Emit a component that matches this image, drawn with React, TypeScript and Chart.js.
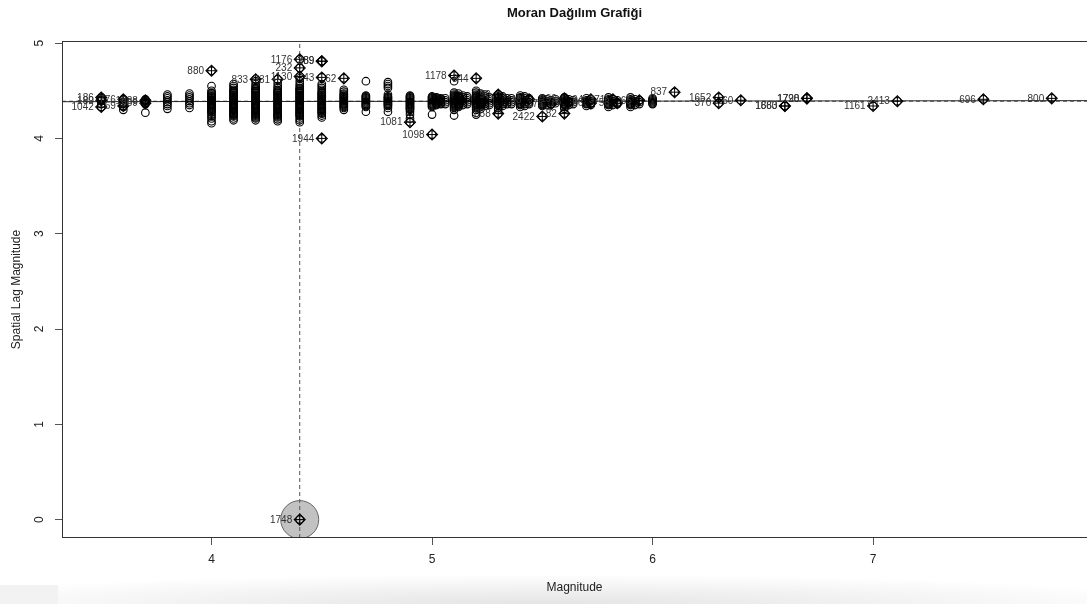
import React, { useEffect, useRef } from 'react';
import { Chart, registerables } from 'chart.js';

Chart.register(...registerables);

const FONT = '"Liberation Sans", Arial, Helvetica, sans-serif';

const chartTitle = 'Moran Dağılım Grafiği';
const xTitle = 'Magnitude';
const yTitle = 'Spatial Lag Magnitude';

const xMin = 3.322;
const xMax = 7.97;
const yMin = -0.193;
const yMax = 5.022;

const xTicks = [4, 5, 6, 7];
const yTicks = [0, 1, 2, 3, 4, 5];

// Magnitude value of each column of points
const columnMagnitudes = [
  3.5, 3.6, 3.7, 3.8, 3.9, 4.0, 4.1, 4.2, 4.3, 4.4, 4.5, 4.6, 4.7, 4.8, 4.9,
  5.0, 5.02, 5.04, 5.06,
  5.1, 5.12, 5.14, 5.16,
  5.2, 5.22, 5.24, 5.26,
  5.3, 5.32, 5.34, 5.36,
  5.4, 5.42, 5.44,
  5.5, 5.52, 5.54, 5.56,
  5.6, 5.62, 5.64,
  5.7, 5.72,
  5.8, 5.82, 5.84,
  5.9, 5.92, 5.94,
  6.0,
];

// Spatial lag values of the points in each column
const columnLags = [
  [4.33, 4.36, 4.39, 4.41, 4.42],
  [4.30, 4.33, 4.36, 4.38, 4.40, 4.41],
  [4.27, 4.36, 4.37, 4.38, 4.39, 4.40, 4.41],
  [4.31, 4.34, 4.36, 4.38, 4.40, 4.42, 4.44, 4.46],
  [4.32, 4.35, 4.37, 4.39, 4.41, 4.43, 4.45, 4.47],
  [4.16, 4.18, 4.21, 4.23, 4.25, 4.27, 4.28, 4.29, 4.30, 4.31, 4.32, 4.33, 4.34, 4.35, 4.36, 4.37, 4.38, 4.39, 4.40, 4.41, 4.42, 4.43, 4.44, 4.45, 4.46, 4.47, 4.48, 4.50, 4.55],
  [4.19, 4.21, 4.23, 4.24, 4.25, 4.26, 4.27, 4.28, 4.29, 4.30, 4.31, 4.32, 4.33, 4.34, 4.35, 4.36, 4.37, 4.38, 4.39, 4.40, 4.41, 4.42, 4.43, 4.44, 4.45, 4.46, 4.47, 4.48, 4.49, 4.50, 4.51, 4.53, 4.55, 4.57],
  [4.19, 4.21, 4.22, 4.23, 4.24, 4.25, 4.26, 4.27, 4.28, 4.29, 4.30, 4.31, 4.32, 4.33, 4.34, 4.35, 4.36, 4.37, 4.38, 4.39, 4.40, 4.41, 4.42, 4.43, 4.44, 4.45, 4.46, 4.47, 4.48, 4.49, 4.50, 4.51, 4.52, 4.53, 4.55, 4.57, 4.60],
  [4.18, 4.20, 4.22, 4.23, 4.24, 4.25, 4.26, 4.27, 4.28, 4.29, 4.30, 4.31, 4.32, 4.33, 4.34, 4.35, 4.36, 4.37, 4.38, 4.39, 4.40, 4.41, 4.42, 4.43, 4.44, 4.45, 4.46, 4.47, 4.48, 4.49, 4.50, 4.51, 4.53, 4.55, 4.58],
  [4.17, 4.19, 4.21, 4.23, 4.24, 4.25, 4.26, 4.27, 4.28, 4.29, 4.30, 4.31, 4.32, 4.33, 4.34, 4.35, 4.36, 4.37, 4.38, 4.39, 4.40, 4.41, 4.42, 4.43, 4.44, 4.45, 4.46, 4.47, 4.48, 4.49, 4.50, 4.51, 4.52, 4.53, 4.55, 4.57, 4.60, 4.63],
  [4.22, 4.24, 4.26, 4.27, 4.28, 4.29, 4.30, 4.31, 4.32, 4.33, 4.34, 4.35, 4.36, 4.37, 4.38, 4.39, 4.40, 4.41, 4.42, 4.43, 4.44, 4.45, 4.46, 4.47, 4.48, 4.49, 4.51, 4.53, 4.55, 4.57],
  [4.30, 4.32, 4.33, 4.34, 4.35, 4.36, 4.37, 4.38, 4.39, 4.40, 4.41, 4.42, 4.43, 4.44, 4.45, 4.46, 4.47, 4.49, 4.51],
  [4.28, 4.33, 4.34, 4.35, 4.36, 4.37, 4.38, 4.39, 4.40, 4.41, 4.42, 4.43, 4.44, 4.45, 4.60],
  [4.28, 4.32, 4.34, 4.35, 4.36, 4.37, 4.38, 4.39, 4.40, 4.41, 4.42, 4.43, 4.44, 4.46, 4.53, 4.55, 4.57, 4.59],
  [4.21, 4.25, 4.28, 4.30, 4.31, 4.32, 4.33, 4.34, 4.35, 4.36, 4.37, 4.38, 4.39, 4.40, 4.41, 4.42, 4.43, 4.44, 4.45],
  [4.25, 4.33, 4.34, 4.35, 4.36, 4.37, 4.38, 4.39, 4.40, 4.41, 4.42, 4.43, 4.44],
  [4.35, 4.36, 4.37, 4.38, 4.39, 4.40, 4.41, 4.42, 4.43],
  [4.36, 4.37, 4.38, 4.39, 4.40, 4.41, 4.42],
  [4.36, 4.38, 4.40, 4.42],
  [4.24, 4.30, 4.32, 4.33, 4.34, 4.35, 4.36, 4.37, 4.38, 4.39, 4.40, 4.41, 4.42, 4.43, 4.44, 4.45, 4.46, 4.48, 4.60],
  [4.33, 4.34, 4.35, 4.36, 4.37, 4.38, 4.39, 4.40, 4.41, 4.42, 4.43, 4.44, 4.45, 4.47],
  [4.35, 4.37, 4.39, 4.41, 4.43, 4.45],
  [4.36, 4.38, 4.40, 4.42, 4.44],
  [4.25, 4.27, 4.30, 4.32, 4.33, 4.34, 4.35, 4.36, 4.37, 4.38, 4.39, 4.40, 4.41, 4.42, 4.43, 4.44, 4.45, 4.46, 4.48, 4.50],
  [4.31, 4.33, 4.34, 4.35, 4.36, 4.37, 4.38, 4.39, 4.40, 4.41, 4.42, 4.43, 4.45, 4.47],
  [4.34, 4.36, 4.38, 4.40, 4.42, 4.44, 4.46],
  [4.35, 4.37, 4.39, 4.41, 4.43],
  [4.30, 4.32, 4.34, 4.35, 4.36, 4.37, 4.38, 4.39, 4.40, 4.41, 4.42, 4.43, 4.44, 4.46],
  [4.34, 4.36, 4.38, 4.40, 4.42, 4.44],
  [4.36, 4.38, 4.40, 4.42],
  [4.36, 4.38, 4.40, 4.42],
  [4.33, 4.35, 4.36, 4.37, 4.38, 4.39, 4.40, 4.41, 4.42, 4.43, 4.45],
  [4.34, 4.36, 4.38, 4.40, 4.42, 4.44],
  [4.36, 4.38, 4.40, 4.42],
  [4.34, 4.35, 4.36, 4.37, 4.38, 4.39, 4.40, 4.41, 4.42],
  [4.35, 4.37, 4.39, 4.41],
  [4.36, 4.38, 4.40],
  [4.37, 4.39, 4.41],
  [4.31, 4.33, 4.35, 4.36, 4.37, 4.38, 4.39, 4.40, 4.41, 4.43],
  [4.35, 4.37, 4.39, 4.41],
  [4.36, 4.38, 4.40],
  [4.34, 4.36, 4.37, 4.38, 4.39, 4.40, 4.42],
  [4.35, 4.37, 4.39, 4.41],
  [4.33, 4.35, 4.36, 4.37, 4.38, 4.39, 4.40, 4.41, 4.43],
  [4.35, 4.37, 4.39, 4.41],
  [4.36, 4.38, 4.40],
  [4.33, 4.35, 4.36, 4.37, 4.38, 4.39, 4.40, 4.41, 4.43],
  [4.35, 4.37, 4.39, 4.41],
  [4.36, 4.38, 4.40],
  [4.36, 4.37, 4.38, 4.39, 4.40, 4.41, 4.42],
];

// Influential observations (marked with diamond-plus and labelled)
const influentialIds = [
  '186', '180', '1042', '776', '69', '1888', '889',
  '880', '833', '731', '1176', '232', '1130', '289', '389', '43', '62', '1944',
  '1081', '1098', '1178', '344', '858', '2422', '82',
  '99', '48', '375', '199', '76', '94', '66', '371', '58', '65',
  '837', '1652', '370', '60', '1663', '1880', '1798', '1720', '1161', '2413', '696', '800',
  '1748',
];
const influentialMagnitude = [
  3.5, 3.5, 3.5, 3.6, 3.6, 3.7, 3.7,
  4.0, 4.2, 4.3, 4.4, 4.4, 4.4, 4.5, 4.5, 4.5, 4.6, 4.5,
  4.9, 5.0, 5.1, 5.2, 5.3, 5.5, 5.6,
  5.3, 5.44, 5.54, 5.6, 5.62, 5.72, 5.72, 5.82, 5.84, 5.94,
  6.1, 6.3, 6.3, 6.4, 6.6, 6.6, 6.7, 6.7, 7.0, 7.11, 7.5, 7.81,
  4.4,
];
const influentialLag = [
  4.43, 4.40, 4.33, 4.41, 4.34, 4.40, 4.37,
  4.71, 4.62, 4.62, 4.83, 4.74, 4.65, 4.81, 4.81, 4.64, 4.63, 4.00,
  4.17, 4.04, 4.66, 4.63, 4.26, 4.23, 4.26,
  4.46, 4.41, 4.36, 4.42, 4.38, 4.41, 4.37, 4.41, 4.37, 4.40,
  4.485, 4.43, 4.37, 4.40, 4.34, 4.34, 4.42, 4.42, 4.34, 4.39, 4.41, 4.42,
  0.0,
];

// Means and fitted regression line
const meanMagnitude = 4.4;
const meanLag = 4.39;
const regressionX = [xMin, xMax];
const regressionY = [4.385, 4.396];

// Observation with the large influence circle
const bubbleMagnitude = [4.4];
const bubbleLag = [0.0];

const circlePoints = [
  ...columnMagnitudes.flatMap((m, i) => columnLags[i].map((l) => ({ x: m, y: l }))),
  ...influentialMagnitude.map((m, i) => ({ x: m, y: influentialLag[i] })),
];
const influentialPoints = influentialMagnitude.map((m, i) => ({ x: m, y: influentialLag[i] }));

const decorPlugin = {
  id: 'rDecor',
  afterDatasetsDraw(chart: any) {
    const { ctx, chartArea, scales } = chart;
    const xs = scales.x;
    const ys = scales.y;
    ctx.save();
    ctx.font = `10px ${FONT}`;
    ctx.fillStyle = '#333';
    ctx.textAlign = 'right';
    ctx.textBaseline = 'middle';
    influentialIds.forEach((id, i) => {
      const px = xs.getPixelForValue(influentialMagnitude[i]);
      const py = ys.getPixelForValue(influentialLag[i]);
      ctx.fillText(id, px - 7.5, py + 0.5);
    });
    ctx.strokeStyle = '#333';
    ctx.lineWidth = 1;
    ctx.strokeRect(
      Math.round(chartArea.left) + 0.5,
      Math.round(chartArea.top) + 0.5,
      Math.round(chartArea.right - chartArea.left) + 4,
      Math.round(chartArea.bottom - chartArea.top) - 1
    );
    ctx.restore();
  },
  afterDraw(chart: any) {
    const { ctx, chartArea, scales } = chart;
    const ys = scales.y;
    const cx = (chartArea.left + chartArea.right) / 2;
    ctx.save();
    ctx.fillStyle = '#111';
    ctx.textAlign = 'center';
    ctx.textBaseline = 'middle';
    ctx.font = `bold 13px ${FONT}`;
    ctx.fillText(chartTitle, cx, 13);
    ctx.font = `12px ${FONT}`;
    ctx.fillStyle = '#222';
    ctx.fillText(xTitle, cx, 588);
    ys.ticks.forEach((t: any) => {
      const py = ys.getPixelForValue(t.value);
      ctx.save();
      ctx.translate(40, py);
      ctx.rotate(-Math.PI / 2);
      ctx.fillText(String(t.value), 0, 0);
      ctx.restore();
    });
    ctx.save();
    ctx.translate(17, (chartArea.top + chartArea.bottom) / 2);
    ctx.rotate(-Math.PI / 2);
    ctx.fillText(yTitle, 0, 0);
    ctx.restore();
    ctx.restore();
  },
};

export default function App() {
  const ref = useRef<HTMLCanvasElement | null>(null);

  useEffect(() => {
    if (!ref.current) return;
    const chart = new Chart(ref.current, {
      type: 'scatter',
      data: {
        datasets: [
          {
            data: influentialPoints,
            pointStyle: 'cross',
            pointRadius: 5,
            pointBorderWidth: 1,
            borderColor: '#000',
            backgroundColor: 'rgba(0,0,0,0)',
            order: 1,
          } as any,
          {
            data: influentialPoints,
            pointStyle: 'rectRot',
            pointRadius: 5.5,
            pointBorderWidth: 1.1,
            borderColor: '#000',
            backgroundColor: 'rgba(0,0,0,0)',
            order: 2,
          },
          {
            data: circlePoints,
            pointStyle: 'circle',
            pointRadius: 3.8,
            pointBorderWidth: 1.1,
            borderColor: '#000',
            backgroundColor: 'rgba(0,0,0,0)',
            order: 3,
          },
          {
            data: regressionX.map((v, i) => ({ x: v, y: regressionY[i] })),
            showLine: true,
            pointRadius: 0,
            borderColor: '#222',
            borderWidth: 1,
            order: 4,
          },
          {
            data: [{ x: xMin, y: meanLag }, { x: xMax, y: meanLag }],
            showLine: true,
            pointRadius: 0,
            borderColor: '#555',
            borderWidth: 1,
            borderDash: [4, 3],
            order: 5,
          },
          {
            data: [{ x: meanMagnitude, y: yMin }, { x: meanMagnitude, y: yMax }],
            showLine: true,
            pointRadius: 0,
            borderColor: '#555',
            borderWidth: 1,
            borderDash: [4, 3],
            order: 6,
          },
          {
            data: bubbleMagnitude.map((v, i) => ({ x: v, y: bubbleLag[i] })),
            pointStyle: 'circle',
            pointRadius: 19,
            pointBorderWidth: 1,
            borderColor: '#666',
            backgroundColor: '#c2c2c2',
            order: 10,
          },
        ],
      },
      options: {
        animation: false,
        responsive: false,
        devicePixelRatio: 1,
        layout: { autoPadding: false, padding: { top: 41, left: 0, right: 0, bottom: 0 } },
        plugins: {
          legend: { display: false },
          tooltip: { enabled: false },
          title: { display: false },
        },
        scales: {
          x: {
            type: 'linear',
            min: xMin,
            max: xMax,
            afterBuildTicks: (s: any) => {
              s.ticks = xTicks.map((v) => ({ value: v }));
            },
            afterFit: (s: any) => {
              s.height = 66;
              s.paddingLeft = 0;
              s.paddingRight = 0;
            },
            grid: {
              display: true,
              drawOnChartArea: false,
              drawTicks: true,
              tickLength: 7,
              color: '#555',
              tickColor: '#555',
              lineWidth: 1,
            },
            border: { display: false },
            ticks: {
              font: { size: 12, family: FONT },
              color: '#222',
              padding: 7,
              maxRotation: 0,
              autoSkip: false,
            },
          },
          y: {
            type: 'linear',
            min: yMin,
            max: yMax,
            afterBuildTicks: (s: any) => {
              s.ticks = yTicks.map((v) => ({ value: v }));
            },
            afterFit: (s: any) => {
              s.width = 62;
              s.paddingTop = 0;
              s.paddingBottom = 0;
            },
            grid: {
              display: true,
              drawOnChartArea: false,
              drawTicks: true,
              tickLength: 7,
              color: '#555',
              tickColor: '#555',
              lineWidth: 1,
            },
            border: { display: false },
            ticks: { display: false },
          },
        },
      },
      plugins: [decorPlugin],
    } as any);
    return () => chart.destroy();
  }, []);

  return (
    <div style={{ position: 'fixed', left: 0, top: 0, width: 1087, height: 604, background: '#fff', overflow: 'hidden' }}>
      <div
        style={{
          position: 'absolute',
          left: 0,
          top: 574,
          width: 1087,
          height: 30,
          background: 'radial-gradient(ellipse 60% 100% at 50% 100%, #e4e4e4 0%, #f0f0f0 45%, rgba(255,255,255,0) 100%)',
        }}
      />
      <div style={{ position: 'absolute', left: 0, top: 585, width: 58, height: 19, background: '#f2f2f2' }} />
      <canvas ref={ref} width={1087} height={604} style={{ position: 'absolute', left: 0, top: 0, width: 1087, height: 604 }} />
    </div>
  );
}
